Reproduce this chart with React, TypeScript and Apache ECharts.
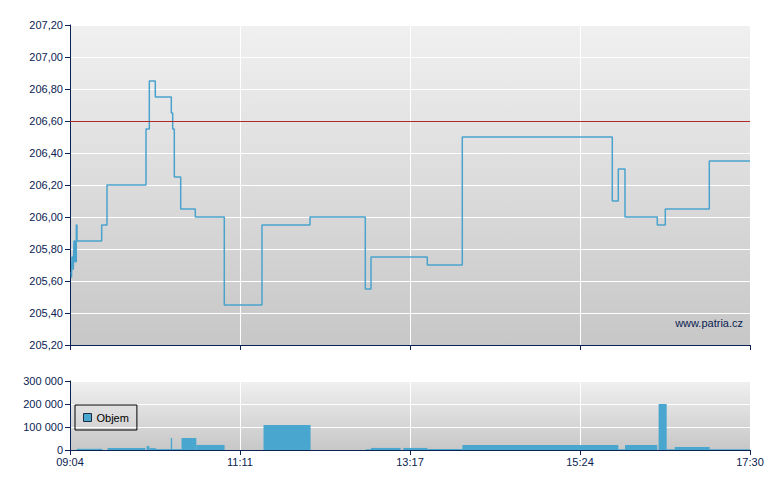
import React, { useEffect, useRef } from "react";
import * as echarts from "echarts";

// Price trades (time, price) – price holds until the next time
const priceTimes = [
  "09:04:22", "09:05:07", "09:05:29", "09:06:28", "09:06:59", "09:07:43", "09:08:41", "09:09:13",
  "09:27:35", "09:31:32", "10:00:33", "10:03:01", "10:07:28", "10:19:23", "10:20:25", "10:21:37",
  "10:26:22", "10:37:14", "10:58:49", "11:26:52", "12:02:35", "12:43:44", "12:47:59", "13:29:52",
  "13:55:55", "15:47:32", "15:52:00", "15:56:59", "16:21:01", "16:26:58", "16:59:43", "17:30:00",
];
const priceValues = [
  205.65, 205.62, 205.75, 205.67, 205.85, 205.72, 205.95, 205.85,
  205.95, 206.2, 206.55, 206.85, 206.75, 206.65, 206.55, 206.25,
  206.05, 206.0, 205.45, 205.95, 206.0, 205.55, 205.75, 205.7,
  206.5, 206.1, 206.3, 206.0, 205.95, 206.05, 206.35, 206.35,
];

// Volume periods
const volStart = [
  "09:09", "09:32", "10:01", "10:03", "10:08", "10:19", "10:20", "10:27", "10:38", "11:28",
  "12:44", "12:48", "13:12", "13:30", "13:56", "15:52", "15:57", "16:22", "16:28", "16:34", "17:00",
];
const volEnd = [
  "09:28", "10:00", "10:03", "10:08", "10:19", "10:20", "10:27", "10:38", "10:59", "12:03",
  "12:48", "13:10", "13:30", "13:56", "15:52", "15:57", "16:21", "16:28", "16:34", "17:00", "17:30",
];
const volValues = [
  5000, 9000, 17000, 8000, 4000, 52000, 4000, 52000, 22000, 109000,
  3000, 9000, 9000, 4000, 22000, 3000, 22000, 200000, 3000, 13000, 3000,
];

const referenceLine = 206.6;
const sessionStart = "09:04";
const sessionEnd = "17:30";

const toMin = (t: string) => {
  const p = t.split(":").map(Number);
  return p[0] * 60 + p[1] + (p[2] || 0) / 60;
};
const base = toMin(sessionStart);
const span = toMin(sessionEnd) - base;
const fmtTime = (v: number) => {
  const m = Math.round(v + base);
  const h = Math.floor(m / 60);
  const mm = m % 60;
  return (h < 10 ? "0" : "") + h + ":" + (mm < 10 ? "0" : "") + mm;
};

const NAVY = "#0b2352";
const BLUE = "#48a6cf";
const FONT = "'Liberation Sans', Arial, sans-serif";

export default function App() {
  const ref = useRef<HTMLDivElement>(null);
  useEffect(() => {
    if (!ref.current) return;
    const chart = echarts.init(ref.current, null, { renderer: "svg" });
    const bg = () =>
      new echarts.graphic.LinearGradient(0, 0, 0, 1, [
        { offset: 0, color: "#f0f0f0" },
        { offset: 1, color: "#c7c7c7" },
      ]);
    const xAxisBase = (gridIndex: number, showLabel: boolean) => ({
      type: "value",
      gridIndex,
      min: 0,
      max: span,
      interval: span / 4,
      axisLine: { show: true, onZero: false, lineStyle: { color: NAVY, width: 1 } },
      axisTick: { show: true, length: 5, lineStyle: { color: NAVY } },
      splitLine: { show: true, lineStyle: { color: "#ffffff", width: 1 } },
      axisLabel: {
        show: showLabel,
        color: NAVY,
        fontSize: 11,
        fontFamily: FONT,
        margin: 6,
        formatter: (v: number) => fmtTime(v),
      },
    });
    const priceData = priceTimes.map((t, i) => [toMin(t) - base, priceValues[i]]);
    const volData = volStart.map((s, i) => [toMin(s) - base, toMin(volEnd[i]) - base, volValues[i]]);
    chart.setOption({
      animation: false,
      grid: [
        { left: 70, right: 30, top: 25, height: 320, show: true, backgroundColor: bg(), borderWidth: 0 },
        { left: 70, right: 30, top: 381, height: 69, show: true, backgroundColor: bg(), borderWidth: 0 },
      ],
      xAxis: [xAxisBase(0, false), xAxisBase(1, true)],
      yAxis: [
        {
          type: "value",
          gridIndex: 0,
          min: 205.2,
          max: 207.2,
          interval: 0.2,
          axisLine: { show: true, lineStyle: { color: NAVY, width: 1 } },
          axisTick: { show: true, length: 5, lineStyle: { color: NAVY } },
          splitLine: { show: true, lineStyle: { color: "#ffffff", width: 1 } },
          axisLabel: {
            color: NAVY,
            fontSize: 11,
            fontFamily: FONT,
            margin: 7,
            formatter: (v: number) => v.toFixed(2).replace(".", ","),
          },
        },
        {
          type: "value",
          gridIndex: 1,
          min: 0,
          max: 300000,
          interval: 100000,
          axisLine: { show: true, lineStyle: { color: NAVY, width: 1 } },
          axisTick: { show: true, length: 5, lineStyle: { color: NAVY } },
          splitLine: { show: true, lineStyle: { color: "#ffffff", width: 1 } },
          axisLabel: {
            color: NAVY,
            fontSize: 11,
            fontFamily: FONT,
            margin: 7,
            formatter: (v: number) => String(Math.round(v)).replace(/\B(?=(\d{3})+(?!\d))/g, " "),
          },
        },
      ],
      legend: {
        data: [
          {
            name: "Objem",
            icon: "rect",
            itemStyle: { color: BLUE, borderColor: "#1d2b44", borderWidth: 1 },
          },
        ],
        left: 75,
        top: 405,
        orient: "vertical",
        borderColor: "#000000",
        borderWidth: 1,
        padding: [7, 8],
        itemWidth: 8,
        itemHeight: 8,
        itemGap: 0,
        textStyle: { fontSize: 11, color: "#000000", fontFamily: FONT },
        selectedMode: false,
      },
      graphic: [
        {
          type: "text",
          x: 743,
          y: 323,
          style: {
            text: "www.patria.cz",
            fill: NAVY,
            fontSize: 11,
            fontFamily: FONT,
            textAlign: "right",
            textVerticalAlign: "middle",
          },
          z: 10,
        },
      ],
      series: [
        {
          name: "Cena",
          type: "line",
          xAxisIndex: 0,
          yAxisIndex: 0,
          step: "end",
          showSymbol: false,
          data: priceData,
          lineStyle: { color: "#4aa3cc", width: 1.5 },
          markLine: {
            silent: true,
            symbol: ["none", "none"],
            label: { show: false },
            lineStyle: { color: "#b02a2a", width: 1, type: "solid" },
            data: [{ yAxis: referenceLine }],
          },
        },
        {
          name: "Objem",
          type: "custom",
          xAxisIndex: 1,
          yAxisIndex: 1,
          data: volData,
          encode: { x: [0, 1], y: 2 },
          itemStyle: { color: BLUE },
          renderItem: (params: any, api: any) => {
            const p0 = api.coord([api.value(0), api.value(2)]);
            const p1 = api.coord([api.value(1), 0]);
            return {
              type: "rect",
              shape: { x: p0[0], y: p0[1], width: p1[0] - p0[0], height: p1[1] - p0[1] },
              style: { fill: BLUE },
            };
          },
        },
      ],
    });
    return () => chart.dispose();
  }, []);
  return (
    <div
      ref={ref}
      style={{ position: "absolute", left: 0, top: 0, width: 780, height: 490 }}
    />
  );
}
